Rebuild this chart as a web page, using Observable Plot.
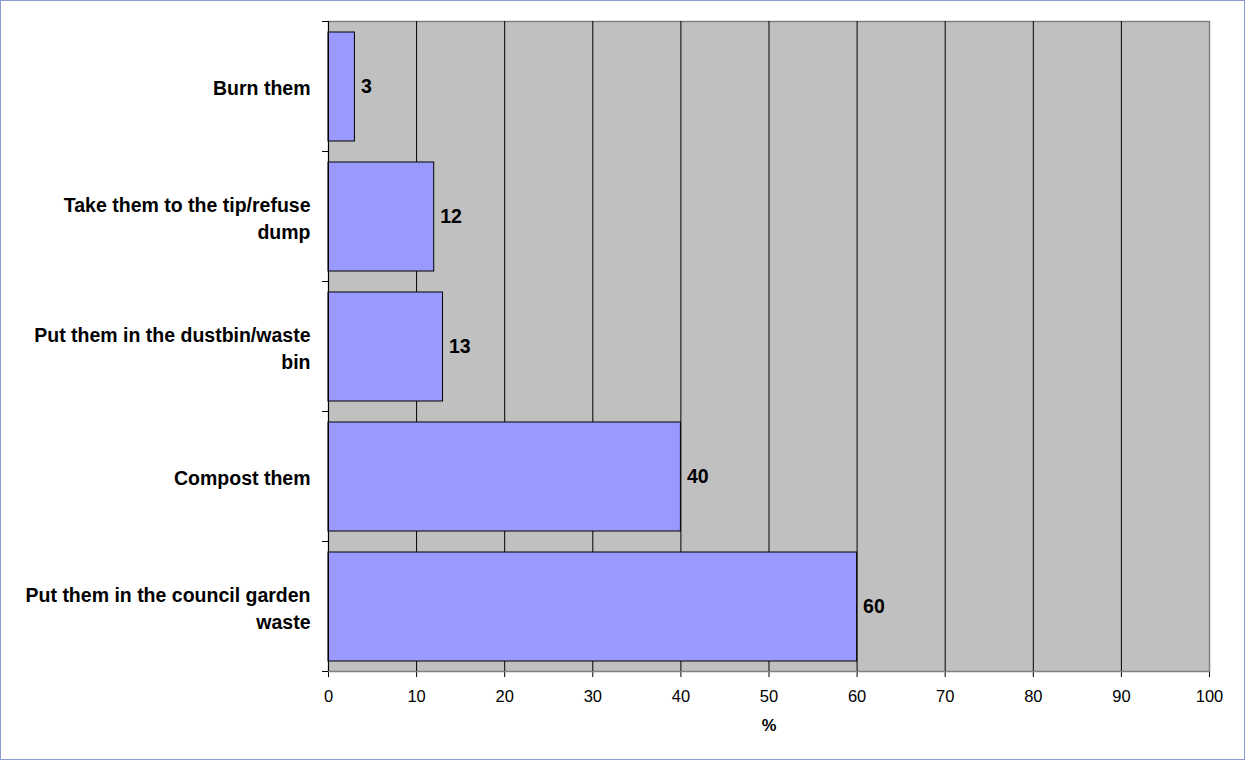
<!DOCTYPE html>
<html>
<head>
<meta charset="utf-8">
<script src="https://cdn.jsdelivr.net/npm/d3@7"></script>
<script src="https://cdn.jsdelivr.net/npm/@observablehq/plot@0.6"></script>
<style>
  html, body { margin: 0; padding: 0; background: #fff; }
  #chart svg { display: block; outline: 1px solid #8e9bd4; outline-offset: -1px; }
</style>
</head>
<body>
<div id="chart"></div>
<script>
// Data
const categories = [
  "Burn them",
  "Take them to the tip/refuse\ndump",
  "Put them in the dustbin/waste\nbin",
  "Compost them",
  "Put them in the council garden\nwaste"
];
const values = [3, 12, 13, 40, 60];
const xTicks = [0, 10, 20, 30, 40, 50, 60, 70, 80, 90, 100];
const xLabel = "%";

const data = categories.map((c, i) => ({category: c, value: values[i]}));

const chart = Plot.plot({
  width: 1245,
  height: 760,
  marginLeft: 328,
  marginRight: 36,
  marginTop: 21,
  marginBottom: 89,
  style: {fontFamily: "'Liberation Sans', Arial, sans-serif", fontSize: "16.5px", color: "#000", background: "#fff"},
  x: {domain: [0, 100], ticks: xTicks, tickSize: 6, tickPadding: 13, label: null, line: true},
  y: {domain: categories, padding: 0, axis: null},
  marks: [
    Plot.frame({fill: "#c0c0c0", stroke: "#808080", strokeWidth: 1.5}),
    Plot.ruleX(xTicks.filter(t => t > 0 && t < 100), {stroke: "#000", strokeWidth: 1}),
    Plot.barX(data, {x: "value", y: "category", fill: "#9999ff", stroke: "#000", strokeWidth: 1, insetTop: 11, insetBottom: 10}),
    Plot.ruleX([0], {stroke: "#000", strokeWidth: 1}),
    // y tick marks at band boundaries
    Plot.ruleY(categories, {y: d => d, x1: 0, x2: 0, insetLeft: -6, dy: -65, stroke: "#000"}),
    Plot.ruleY(categories, {y: d => d, x1: 0, x2: 0, insetLeft: -6, dy: 65, stroke: "#000"}),
    // category labels
    Plot.text(categories, {y: d => d, x: 0, text: d => d, dx: -18, textAnchor: "end", lineAnchor: "middle", lineHeight: 1.39, fontWeight: "bold", fontSize: 19.5, fill: "#000"}),
    // value labels
    Plot.text(data, {x: "value", y: "category", text: d => String(d.value), dx: 6, textAnchor: "start", fontWeight: "bold", fontSize: 19.5, fill: "#000"}),
    // x-axis title
    Plot.text([xLabel], {text: d => d, frameAnchor: "bottom", dy: 54, lineAnchor: "middle", fontWeight: "bold", fontSize: 16.5, fill: "#000"})
  ]
});
document.getElementById("chart").appendChild(chart);
</script>
</body>
</html>
